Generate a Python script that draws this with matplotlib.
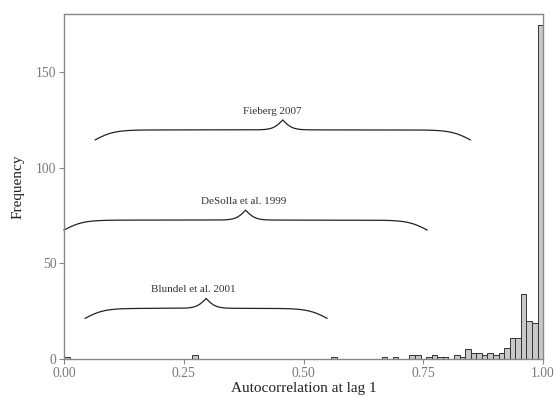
import numpy as np
import matplotlib
matplotlib.use("Agg")
import matplotlib.pyplot as plt

# histogram of lag-1 autocorrelation, 86 equal bins over [0, 1]
n_bins = 86
nonzero_bins = [0, 23, 48, 57, 59, 62, 63, 65, 66, 67, 68, 70, 71, 72, 73, 74,
                75, 76, 77, 78, 79, 80, 81, 82, 83, 84, 85]
nonzero_counts = [1, 2, 1, 1, 1, 2, 2, 1, 2, 1, 1, 2, 1, 5, 3, 3,
                  2, 3, 2, 3, 6, 11, 11, 34, 20, 19, 175]

# ranges reported in earlier studies
study_labels = ["Fieberg 2007", "DeSolla et al. 1999", "Blundel et al. 2001"]
study_lo = [0.065, 0.0, 0.044]
study_hi = [0.848, 0.758, 0.549]
study_y = [114.7, 67.5, 21.3]
label_x = [0.435, 0.375, 0.269]

x_ticks = [0.0, 0.25, 0.5, 0.75, 1.0]
x_tick_labels = ["0.00", "0.25", "0.50", "0.75", "1.00"]
y_ticks = [0, 50, 100, 150]

plt.rcParams["font.family"] = ["Liberation Serif", "DejaVu Serif"]

counts = np.zeros(n_bins)
counts[nonzero_bins] = nonzero_counts
edges = np.linspace(0, 1, n_bins + 1)

fig = plt.figure(figsize=(5.57, 3.98), dpi=100)
ax = fig.add_axes([0.115, 0.098, 0.86, 0.867])

ax.bar(edges[:-1], counts, width=np.diff(edges), align="edge",
       color="#c8c8c8", edgecolor="#333333", linewidth=0.7)


def draw_brace(ax, x0, x1, y_end, rise=5.2, b_end=50.0, b_tip=100.0):
    xm = (x0 + x1) / 2
    xs = np.linspace(x0, xm, 200)
    s1 = 1 / (1 + np.exp(-b_end * (xs - x0))) - 0.5
    s2 = 1 / (1 + np.exp(-b_tip * (xs - xm)))
    ys = y_end + rise * 2 * s1 + rise * 2 * s2
    x_all = np.concatenate([xs, (2 * xm - xs)[::-1]])
    y_all = np.concatenate([ys, ys[::-1]])
    ax.plot(x_all, y_all, color="#222222", linewidth=0.9, clip_on=False)
    return ys.max()


for lab, lo, hi, yb, lx in zip(study_labels, study_lo, study_hi, study_y, label_x):
    top = draw_brace(ax, lo, hi, yb)
    ax.text(lx, top + 4.5, lab, ha="center", va="center", fontsize=8,
            color="#333333")

ax.set_xlim(0, 1)
ax.set_ylim(0, 180.6)
ax.set_xticks(x_ticks)
ax.set_xticklabels(x_tick_labels)
ax.set_yticks(y_ticks)

for sp in ax.spines.values():
    sp.set_color("#888888")
    sp.set_linewidth(1.0)

ax.tick_params(axis="both", colors="#888888", labelcolor="#7a7a7a",
               labelsize=9.8, length=3.5, width=0.8, pad=2)

ax.set_xlabel("Autocorrelation at lag 1", fontsize=11, color="#222222", labelpad=2)
ax.set_ylabel("Frequency", fontsize=11, color="#222222", labelpad=8)

fig.savefig("out.png", dpi=100)
